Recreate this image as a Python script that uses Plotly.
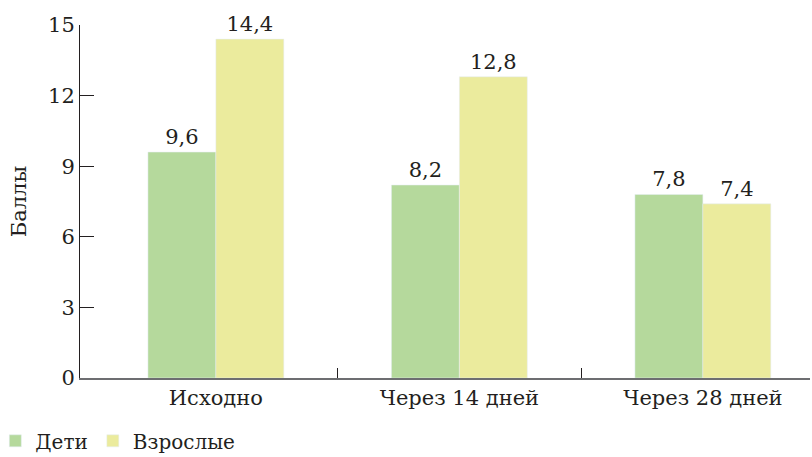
import plotly.graph_objects as go

categories = ["Исходно", "Через 14 дней", "Через 28 дней"]
children = [9.6, 8.2, 7.8]
adults = [14.4, 12.8, 7.4]
series_names = ["Дети", "Взрослые"]
y_ticks = [0, 3, 6, 9, 12, 15]

FONT = "DejaVu Serif"
FS = 21
xpos = list(range(len(categories)))

def fmt(v):
    return f"{v:.1f}".replace(".", ",")

fig = go.Figure()
fig.add_trace(go.Bar(x=xpos, y=children, name=series_names[0], marker_color="#b5d99c",
                     text=[fmt(v) for v in children], textposition="outside",
                     textfont=dict(size=FS, color="#231f20", family=FONT), cliponaxis=False))
fig.add_trace(go.Bar(x=xpos, y=adults, name=series_names[1], marker_color="#ebeb9d",
                     text=[fmt(v) for v in adults], textposition="outside",
                     textfont=dict(size=FS, color="#231f20", family=FONT), cliponaxis=False))

fig.update_layout(
    width=812, height=457,
    margin=dict(l=80, r=2, t=25, b=79, autoexpand=False),
    plot_bgcolor="white", paper_bgcolor="white",
    barmode="group", bargap=0.442, bargroupgap=0,
    font=dict(family=FONT, size=FS, color="#231f20"),
    showlegend=True,
    legend=dict(orientation="h", x=-0.116, xanchor="left", y=-0.178, yanchor="middle",
                font=dict(size=20, family=FONT), traceorder="normal", itemwidth=30),
    xaxis=dict(range=[-0.558, 2.44], tickmode="array", tickvals=xpos, ticktext=categories,
               ticks="", showline=True, linecolor="#6d6e71", linewidth=1.5,
               showgrid=False, zeroline=False,
               minor=dict(tickmode="array", tickvals=[0.5, 1.5], ticks="inside",
                          ticklen=10, tickcolor="#231f20", tickwidth=1, showgrid=False),
               tickfont=dict(size=FS)),
    yaxis=dict(range=[0, 15], tickmode="array", tickvals=y_ticks, ticks="inside",
               ticklen=14, tickcolor="#231f20", tickwidth=1,
               showline=True, linecolor="#231f20", linewidth=1,
               showgrid=False, zeroline=False,
               title=dict(text="Баллы", font=dict(size=FS), standoff=15),
               tickfont=dict(size=FS)),
)

fig.write_html("out.html")
